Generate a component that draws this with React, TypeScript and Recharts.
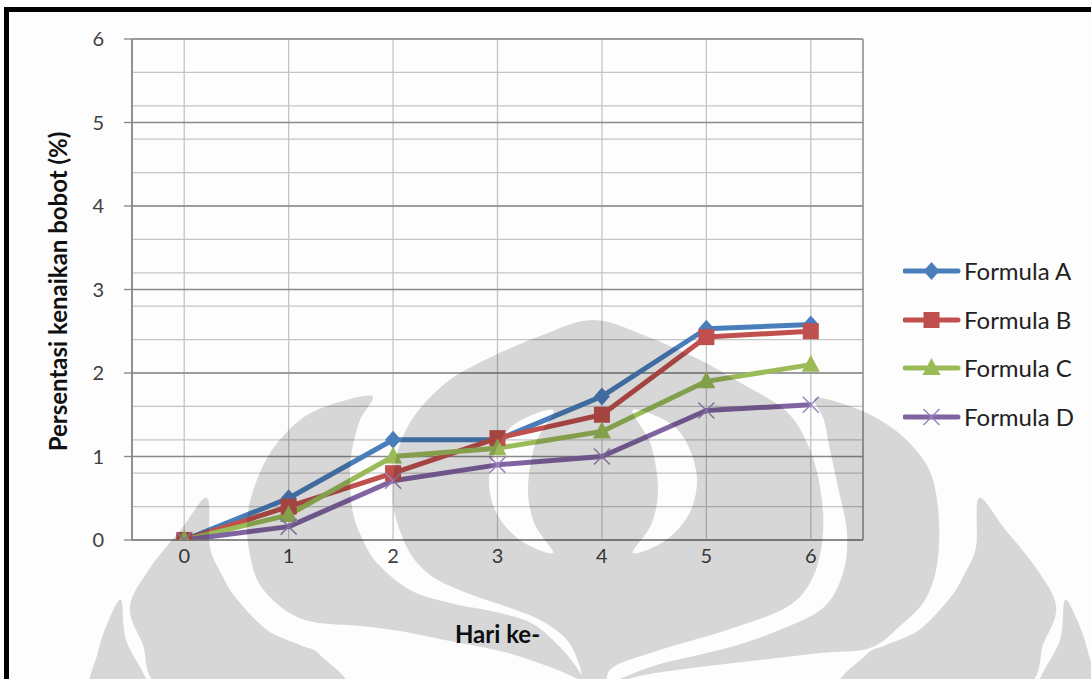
import React from 'react';
import { LineChart, Line, XAxis, YAxis, CartesianGrid } from 'recharts';

// days of observation
const days = [0, 1, 2, 3, 4, 5, 6];

// weight gain (%) per formula
const formulaA = [0, 0.5, 1.2, 1.2, 1.72, 2.53, 2.58];
const formulaB = [0, 0.4, 0.8, 1.22, 1.5, 2.43, 2.5];
const formulaC = [0, 0.3, 1.0, 1.1, 1.3, 1.9, 2.1];
const formulaD = [0, 0.16, 0.71, 0.9, 1.0, 1.55, 1.62];

const seriesNames = ['Formula A', 'Formula B', 'Formula C', 'Formula D'];
const seriesKeys = ['a', 'b', 'c', 'd'];
const seriesColors = ['#4a7ebb', '#c0504d', '#9bbb59', '#8064a2'];
const markerColors = ['#4a7ebb', '#c0504d', '#9bbb59', '#9a82bd'];

const yTicks = [0, 1, 2, 3, 4, 5, 6];
const yMinorTicks = Array.from({ length: 31 }, (_, i) => Math.round(i * 2) / 10);
const xBounds = [-0.5, 0.5, 1.5, 2.5, 3.5, 4.5, 5.5, 6.5];

const data = days.map((day, i) => ({
  day,
  a: formulaA[i],
  b: formulaB[i],
  c: formulaC[i],
  d: formulaD[i],
}));

const FONT = 'Lato, "Open Sans", sans-serif';

type Shape = 'diamond' | 'square' | 'triangle' | 'cross';
const seriesShapes: Shape[] = ['diamond', 'square', 'triangle', 'cross'];

const Marker = ({ shape, cx, cy, color }: { shape: Shape; cx: number; cy: number; color: string }) => {
  if (shape === 'diamond') {
    return <polygon points={`${cx},${cy - 9} ${cx + 8},${cy} ${cx},${cy + 9} ${cx - 8},${cy}`} fill={color} />;
  }
  if (shape === 'square') {
    return <rect x={cx - 8} y={cy - 8} width={16} height={16} fill={color} />;
  }
  if (shape === 'triangle') {
    return <polygon points={`${cx},${cy - 10} ${cx + 9},${cy + 7} ${cx - 9},${cy + 7}`} fill={color} />;
  }
  return (
    <g stroke={color} strokeWidth={1.5}>
      <line x1={cx - 8} y1={cy - 8} x2={cx + 8} y2={cy + 8} />
      <line x1={cx - 8} y1={cy + 8} x2={cx + 8} y2={cy - 8} />
    </g>
  );
};

const makeDot = (idx: number) => (props: any) => {
  const { cx, cy, index } = props;
  if (cx == null || cy == null) return <g key={index} />;
  return (
    <g key={`${seriesKeys[idx]}-${index}`}>
      <Marker shape={seriesShapes[idx]} cx={cx} cy={cy} color={markerColors[idx]} />
    </g>
  );
};

const ChartLegend = () => (
  <div style={{ position: 'absolute', left: 903, top: 247, fontFamily: FONT }}>
    {seriesNames.map((name, i) => (
      <div key={name} style={{ display: 'flex', alignItems: 'center', height: 48.5 }}>
        <svg width={58} height={24}>
          <line x1={2} y1={12} x2={55} y2={12} stroke={seriesColors[i]} strokeWidth={5} strokeLinecap="round" />
          <Marker shape={seriesShapes[i]} cx={28.5} cy={12} color={markerColors[i]} />
        </svg>
        <span style={{ fontSize: 24, color: '#222', marginLeft: 3, lineHeight: '24px' }}>{name}</span>
      </div>
    ))}
  </div>
);

// --- background emblem (semi-transparent grey overlay) ---
type Pt = [number, number];

const smooth = (pts: Pt[]): string => {
  const n = pts.length;
  let d = `M${pts[0][0]},${pts[0][1]}`;
  for (let i = 0; i < n; i++) {
    const p0 = pts[(i - 1 + n) % n];
    const p1 = pts[i];
    const p2 = pts[(i + 1) % n];
    const p3 = pts[(i + 2) % n];
    const c1x = p1[0] + (p2[0] - p0[0]) / 6;
    const c1y = p1[1] + (p2[1] - p0[1]) / 6;
    const c2x = p2[0] - (p3[0] - p1[0]) / 6;
    const c2y = p2[1] - (p3[1] - p1[1]) / 6;
    d += ` C${c1x},${c1y} ${c2x},${c2y} ${p2[0]},${p2[1]}`;
  }
  return d + ' Z';
};

const mirror = (pts: Pt[]): Pt[] => pts.map(([x, y]) => [1186 - x, y] as Pt);

const centre: Pt[] = [
  [593, 320], [540, 336], [485, 360], [447, 382], [415, 415], [398, 450], [393, 485], [395, 515],
  [410, 553], [433, 577], [467, 593], [507, 607], [540, 620], [567, 640], [580, 667], [585, 692],
  [605, 692], [612, 668], [660, 650], [727, 630], [787, 607], [813, 577], [823, 533], [820, 487],
  [808, 445], [785, 410], [739, 382], [700, 360], [646, 336],
];

const leafL2: Pt[] = [
  [372, 396], [330, 405], [300, 420], [272, 450], [255, 485], [247, 520], [250, 555], [260, 585],
  [285, 610], [313, 622], [360, 626], [400, 631], [450, 641], [500, 651], [533, 661], [560, 671],
  [582, 680], [577, 668], [560, 647], [533, 624], [500, 613], [450, 603], [410, 590], [377, 563],
  [362, 538], [353, 513], [350, 480], [352, 450], [360, 420],
];

const leafR2: Pt[] = [
  [816, 398], [860, 410], [895, 430], [920, 455], [933, 480], [939, 520], [937, 565], [925, 600],
  [900, 626], [870, 648], [820, 653], [760, 660], [700, 667], [650, 674], [615, 682], [622, 678],
  [660, 664], [727, 648], [777, 631], [823, 608], [843, 573], [847, 533], [838, 487], [830, 450],
  [824, 420],
];

const leafL1: Pt[] = [
  [207, 498], [210, 547], [222, 575], [236, 598], [267, 630], [300, 645], [320, 655], [340, 692],
  [172, 692], [142, 642], [130, 606], [150, 568], [182, 528],
];

const leafL0: Pt[] = [
  [121, 600], [126, 640], [148, 692], [92, 692], [98, 652], [108, 622],
];

const crescentL: Pt[] = [
  [553, 410], [510, 428], [490, 470], [495, 510], [520, 540], [553, 553], [535, 525], [528, 490], [535, 445],
];

const EmblemOverlay = () => (
  <svg width={1091} height={679} style={{ position: 'absolute', left: 0, top: 0, pointerEvents: 'none' }}>
    <defs>
      <mask id="emblem" maskUnits="userSpaceOnUse" x={0} y={0} width={1091} height={679}>
        <rect width={1091} height={679} fill="#000" />
        {[centre, leafL2, leafR2, leafL1, mirror(leafL1), leafL0, mirror(leafL0)].map((pts, i) => (
          <path key={i} d={smooth(pts)} fill="#fff" />
        ))}
        <path d={smooth(crescentL)} fill="#000" />
        <path d={smooth(mirror(crescentL))} fill="#000" />
      </mask>
    </defs>
    <rect width={1091} height={679} fill="#000" fillOpacity={0.15} mask="url(#emblem)" />
  </svg>
);

export default function App() {
  return (
    <div style={{ position: 'relative', width: 1091, height: 679, overflow: 'hidden', background: '#fdfdfd' }}>
      <style>{'body{margin:0}'}</style>
      <LineChart
        width={1091}
        height={679}
        data={data}
        margin={{ top: 39, right: 228, bottom: 99, left: 0 }}
        style={{ fontFamily: FONT }}
      >
        <XAxis
          xAxisId="bound"
          type="number"
          dataKey="day"
          domain={[-0.5, 6.5]}
          ticks={xBounds}
          tick={false}
          axisLine={false}
          tickLine={{ stroke: '#868686', strokeWidth: 1.3 }}
          tickSize={7}
          height={0}
          allowDataOverflow
        />
        <XAxis
          xAxisId="cat"
          type="number"
          dataKey="day"
          domain={[-0.5, 6.5]}
          ticks={days}
          interval={0}
          tickLine={false}
          axisLine={{ stroke: '#868686', strokeWidth: 1.3 }}
          tickSize={6}
          tickMargin={3}
          height={40}
          tick={{ fontSize: 20, fill: '#404040' }}
          allowDataOverflow
          label={{ value: 'Hari ke-', position: 'bottom', offset: 46, fontSize: 24, fontWeight: 700, fill: '#111' }}
        />
        <YAxis
          yAxisId="v"
          domain={[0, 6]}
          ticks={yTicks}
          interval={0}
          width={132}
          tickSize={8}
          tickMargin={20}
          axisLine={{ stroke: '#868686', strokeWidth: 1.3 }}
          tickLine={{ stroke: '#868686', strokeWidth: 1.3 }}
          tick={{ fontSize: 20, fill: '#404040' }}
          allowDataOverflow
          label={{
            value: 'Persentasi kenaikan bobot (%)',
            angle: -90,
            position: 'center',
            dx: -8,
            dy: 2,
            fontSize: 24,
            fontWeight: 700,
            fill: '#111',
          }}
        />
        <YAxis yAxisId="minor" domain={[0, 6]} ticks={yMinorTicks} width={0} hide allowDataOverflow />
        <CartesianGrid xAxisId="cat" yAxisId="minor" stroke="#c4c4c4" strokeWidth={1.3} horizontal vertical />
        <CartesianGrid xAxisId="bound" yAxisId="v" stroke="#8a8a8a" strokeWidth={1.3} horizontal vertical />
        {seriesKeys.map((key, i) => (
          <Line
            key={key}
            xAxisId="cat"
            yAxisId="v"
            type="linear"
            dataKey={key}
            name={seriesNames[i]}
            stroke={seriesColors[i]}
            strokeWidth={5}
            strokeLinejoin="round"
            dot={makeDot(i)}
            activeDot={false}
            isAnimationActive={false}
          />
        ))}
      </LineChart>
      <ChartLegend />
      <EmblemOverlay />
      <div
        style={{
          position: 'absolute',
          left: 4,
          top: 7,
          width: 1200,
          height: 800,
          borderLeft: '5px solid #000',
          borderTop: '5px solid #000',
          pointerEvents: 'none',
        }}
      />
    </div>
  );
}
